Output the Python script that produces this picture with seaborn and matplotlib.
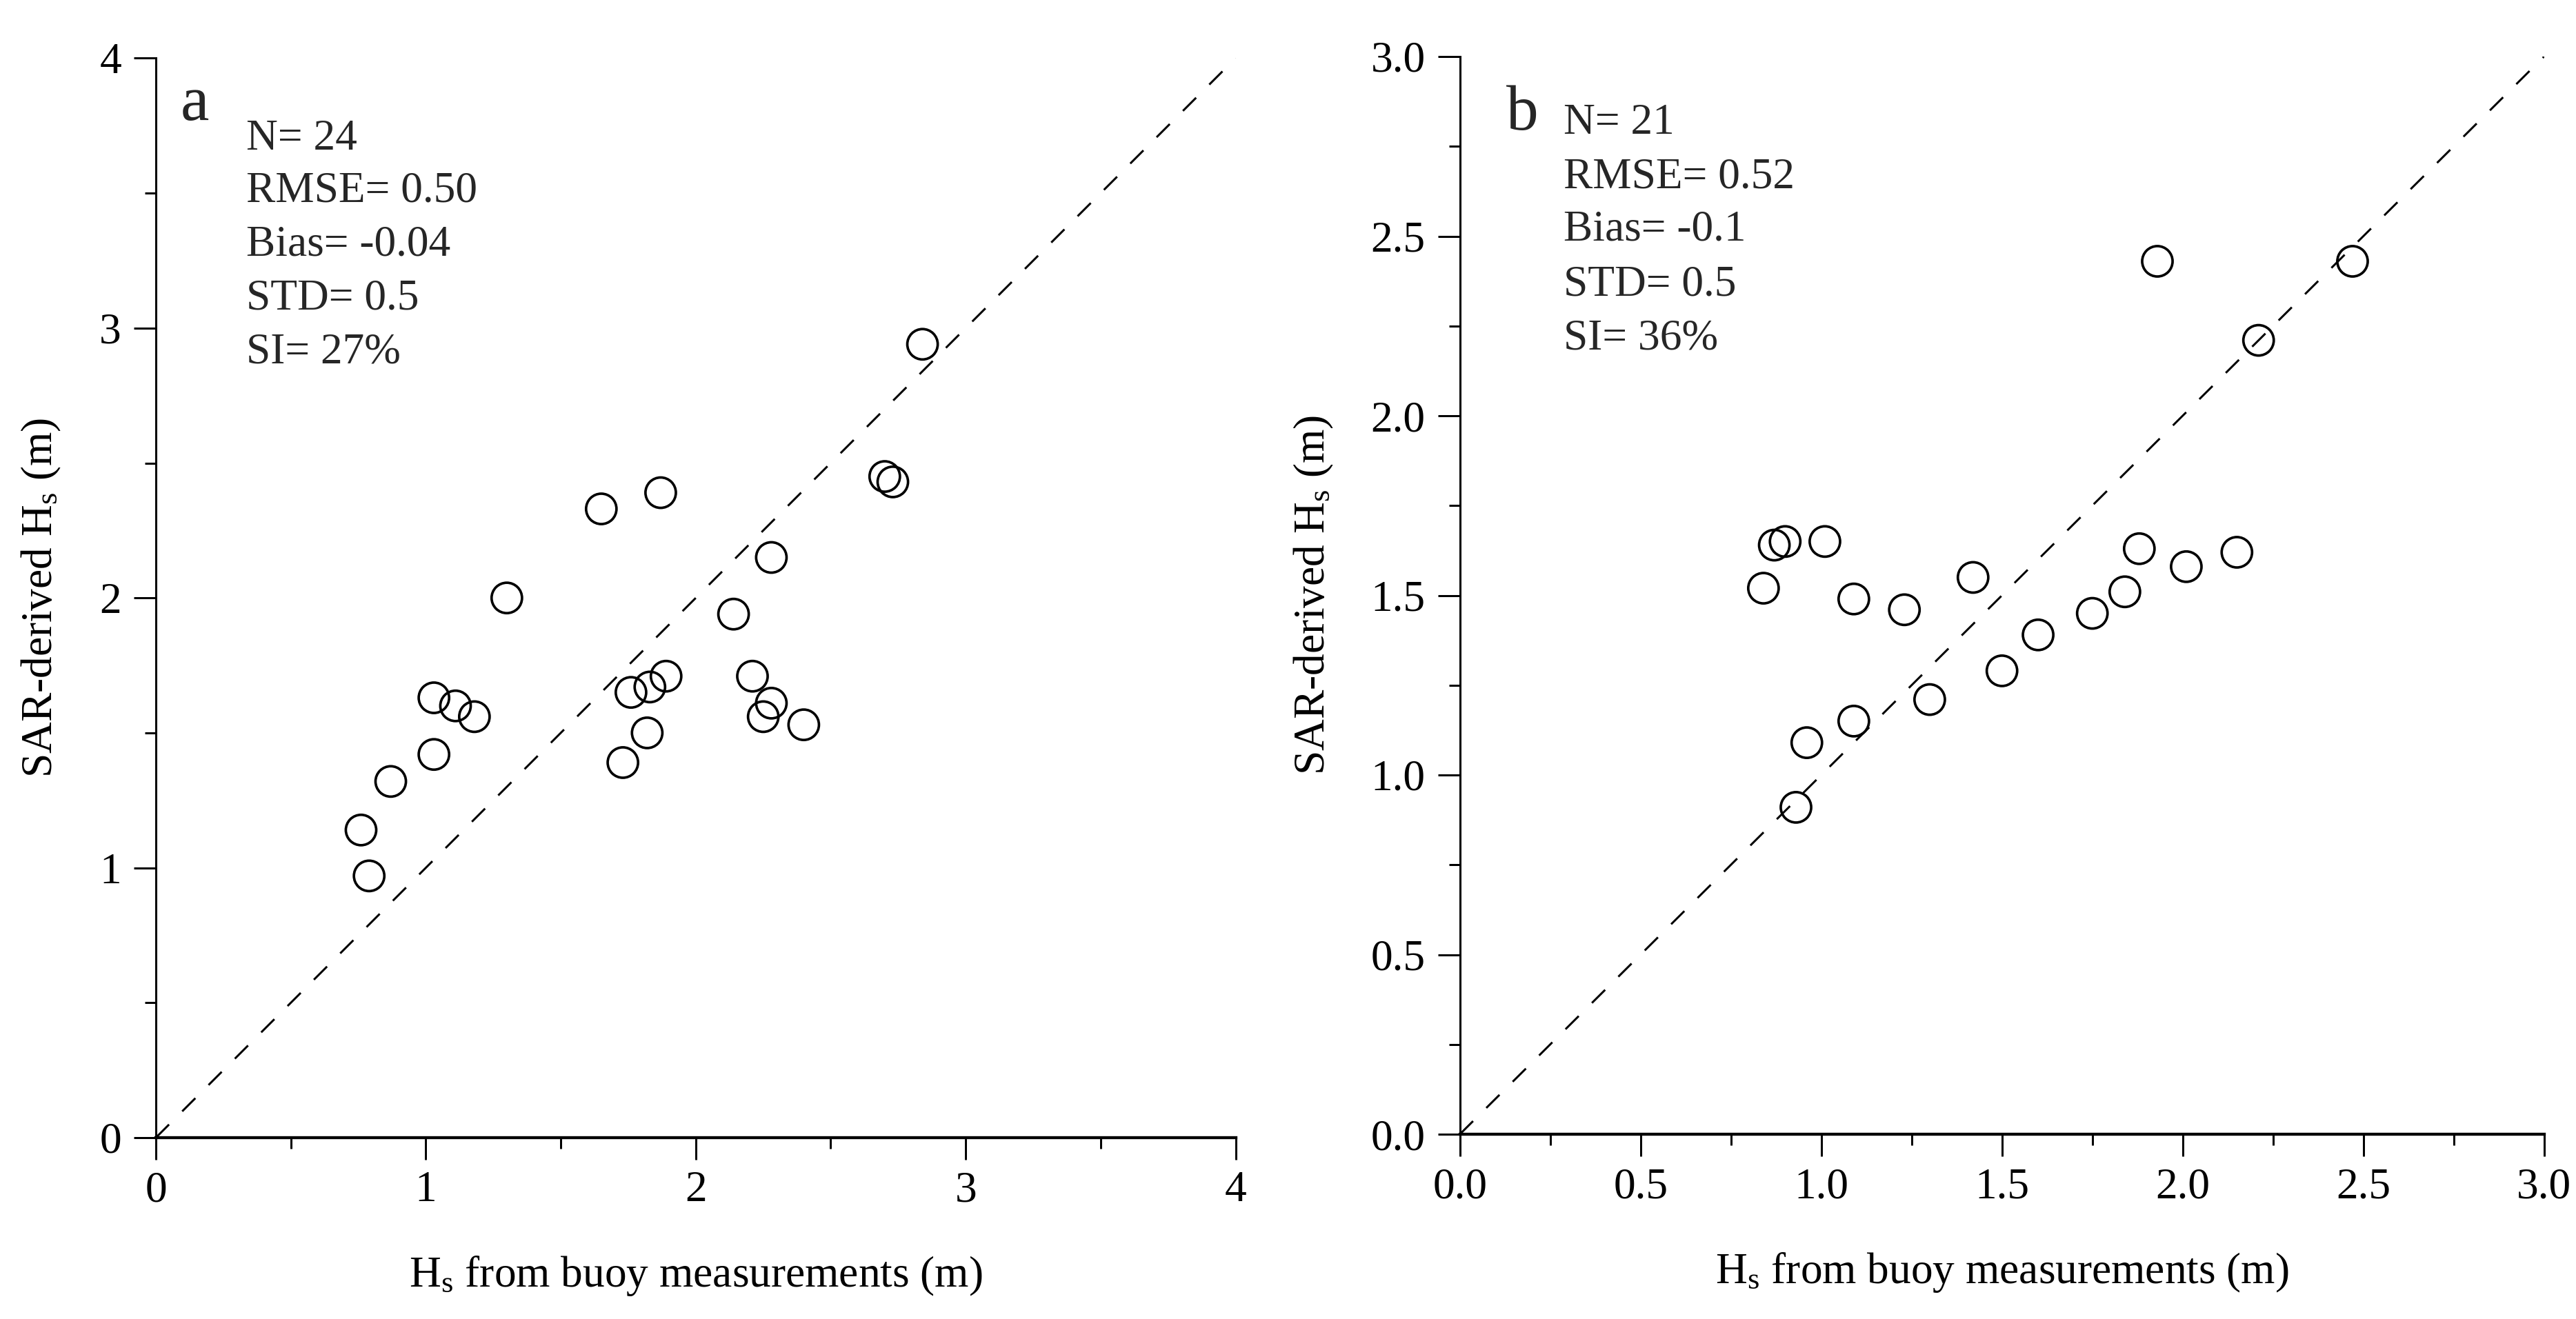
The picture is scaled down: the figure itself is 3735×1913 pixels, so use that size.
import matplotlib
matplotlib.use("Agg")
import matplotlib.pyplot as plt
from matplotlib.ticker import AutoMinorLocator
import seaborn as sns
import pandas as pd

# ---------------- data ----------------
a_buoy = [0.76, 0.79, 0.87, 1.03, 1.03, 1.11, 1.18, 1.30, 1.65, 1.73, 1.76, 1.82,
          1.83, 1.87, 1.89, 2.14, 2.21, 2.25, 2.28, 2.28, 2.40, 2.70, 2.73, 2.84]
a_sar = [1.14, 0.97, 1.32, 1.42, 1.63, 1.60, 1.56, 2.00, 2.33, 1.39, 1.65, 1.50,
         1.67, 2.39, 1.71, 1.94, 1.71, 1.56, 1.61, 2.15, 1.53, 2.45, 2.43, 2.94]

b_buoy = [0.84, 0.87, 0.90, 1.01, 1.09, 1.23, 1.42, 1.50, 1.60, 1.75, 1.84,
          1.88, 2.01, 2.15, 1.93, 2.21, 2.47, 1.30, 1.09, 0.96, 0.93]
b_sar = [1.52, 1.64, 1.65, 1.65, 1.49, 1.46, 1.55, 1.29, 1.39, 1.45, 1.51,
         1.63, 1.58, 1.62, 2.43, 2.21, 2.43, 1.21, 1.15, 1.09, 0.91]

a_ticks = [0, 1, 2, 3, 4]
a_ticklabels = ["0", "1", "2", "3", "4"]
b_ticks = [0.0, 0.5, 1.0, 1.5, 2.0, 2.5, 3.0]
b_ticklabels = ["0.0", "0.5", "1.0", "1.5", "2.0", "2.5", "3.0"]

a_stats = ["N= 24", "RMSE= 0.50", "Bias= -0.04", "STD= 0.5", "SI= 27%"]
b_stats = ["N= 21", "RMSE= 0.52", "Bias= -0.1", "STD= 0.5", "SI= 36%"]

xlabel = r"H$_{\mathrm{s}}$ from buoy measurements (m)"
ylabel = r"SAR-derived H$_{\mathrm{s}}$ (m)"

# ---------------- style ----------------
sns.set_theme(style="ticks")
plt.rcParams["font.family"] = ["Liberation Serif", "DejaVu Sans"]
plt.rcParams["mathtext.fontset"] = "custom"
plt.rcParams["mathtext.rm"] = "Liberation Serif"
plt.rcParams["mathtext.it"] = "Liberation Serif:italic"
plt.rcParams["axes.unicode_minus"] = False

W, H, DPI = 3735, 1913, 240
fig = plt.figure(figsize=(W / DPI, H / DPI), dpi=DPI)
fig.patch.set_facecolor("white")

ax1 = fig.add_axes([226 / W, 1 - 1650 / H, 1565.6 / W, 1565.6 / H])
ax2 = fig.add_axes([2116.7 / W, 1 - 1645 / H, 1572 / W, 1563 / H])

FS = 19


def style_axes(ax, lim, ticks, ticklabels, xlab_y, ylab_x):
    ax.set_facecolor("white")
    ax.set_xlim(lim)
    ax.set_ylim(lim)
    ax.set_xticks(ticks)
    ax.set_xticklabels(ticklabels)
    ax.set_yticks(ticks)
    ax.set_yticklabels(ticklabels)
    ax.xaxis.set_minor_locator(AutoMinorLocator(2))
    ax.yaxis.set_minor_locator(AutoMinorLocator(2))
    for s in ["top", "right"]:
        ax.spines[s].set_visible(False)
    ax.spines["left"].set_linewidth(0.9)
    ax.spines["bottom"].set_linewidth(1.3)
    ax.spines["left"].set_color("black")
    ax.spines["bottom"].set_color("black")
    ax.tick_params(which="major", length=9.5, width=0.9, color="black",
                   labelsize=FS, labelcolor="black", direction="out")
    ax.tick_params(which="minor", length=4.7, width=0.9, color="black",
                   direction="out")
    ax.tick_params(axis="x", which="major", pad=5)
    ax.tick_params(axis="y", which="major", pad=5.5)
    ax.set_xlabel(xlabel, fontsize=FS, color="black")
    ax.set_ylabel(ylabel, fontsize=FS, color="black")
    ax.xaxis.set_label_coords(0.5, xlab_y)
    ax.xaxis.label.set_va("center")
    ax.yaxis.set_label_coords(ylab_x, 0.5)
    ax.yaxis.label.set_va("center")
    ax.grid(False)


# ---------------- panel a ----------------
df_a = pd.DataFrame({"buoy": a_buoy, "sar": a_sar})
sns.lineplot(x=[a_ticks[0], a_ticks[-1]], y=[a_ticks[0], a_ticks[-1]], ax=ax1,
             color="black", lw=0.9, linestyle=(0, (9, 9)))
sns.scatterplot(data=df_a, x="buoy", y="sar", ax=ax1, s=175, marker="o",
                facecolor="none", edgecolor="black", linewidth=1.1, zorder=3)
style_axes(ax1, (0, 4), a_ticks, a_ticklabels, -0.128, -0.106)
ax1.text(0.0227, 0.9428, "a", transform=ax1.transAxes, fontsize=28,
         ha="left", va="baseline")
for t, yb in zip(a_stats, [0.9156, 0.8671, 0.8172, 0.7673, 0.7174]):
    ax1.text(0.0837, yb, t, transform=ax1.transAxes, fontsize=FS,
             ha="left", va="baseline")

# ---------------- panel b ----------------
df_b = pd.DataFrame({"buoy": b_buoy, "sar": b_sar})
sns.lineplot(x=[b_ticks[0], b_ticks[-1]], y=[b_ticks[0], b_ticks[-1]], ax=ax2,
             color="black", lw=0.9, linestyle=(0, (9, 9)))
sns.scatterplot(data=df_b, x="buoy", y="sar", ax=ax2, s=175, marker="o",
                facecolor="none", edgecolor="black", linewidth=1.1, zorder=3)
style_axes(ax2, (0, 3), b_ticks, b_ticklabels, -0.128, -0.135)
ax2.text(0.0427, 0.9325, "b", transform=ax2.transAxes, fontsize=28,
         ha="left", va="baseline")
for t, yb in zip(b_stats, [0.9282, 0.8782, 0.8297, 0.7782, 0.7283]):
    ax2.text(0.0954, yb, t, transform=ax2.transAxes, fontsize=FS,
             ha="left", va="baseline")

fig.savefig("out.png", dpi=DPI, facecolor="white")
